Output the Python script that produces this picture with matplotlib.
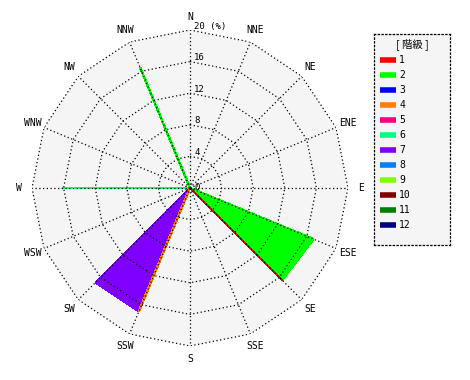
import numpy as np
import matplotlib
matplotlib.use('Agg')
import matplotlib.pyplot as plt

plt.rcParams['font.family'] = ['DejaVu Sans Mono', 'Noto Sans CJK JP']

# 16 directions, clockwise from north
directions = ['N', 'NNE', 'NE', 'ENE', 'E', 'ESE', 'SE', 'SSE',
              'S', 'SSW', 'SW', 'WSW', 'W', 'WNW', 'NW', 'NNW']
class_labels = ['1', '2', '3', '4', '5', '6', '7', '8', '9', '10', '11', '12']
class_colors = ['#ff0000', '#00ff00', '#0000ff', '#ff8000', '#ff0080', '#00ff80',
                '#8000ff', '#0080ff', '#80ff00', '#800000', '#008000', '#000080']

# frequency (%) per class, one value per direction (N ... NNW)
freq_class = [
    [0, 0, 0, 0, 0, 0, 16.5, 0, 0, 0, 0, 0, 0, 0, 0, 0],     # 1
    [0, 0, 0, 0, 0, 16.9, 0, 0, 0, 0, 0, 0, 0, 0, 0, 16.5],  # 2
    [0] * 16,                                                # 3
    [0, 0, 0, 0, 0, 0, 0, 0, 0, 16.9, 0, 0, 0, 0, 0, 0],     # 4
    [0] * 16,                                                # 5
    [0, 0, 0, 0, 0, 0, 0, 0, 0, 0, 0, 0, 16.2, 0, 0, 0],     # 6
    [0, 0, 0, 0, 0, 0, 0, 0, 0, 0, 16.9, 0, 0, 0, 0, 0],     # 7
    [0] * 16,                                                # 8
    [0] * 16,                                                # 9
    [0] * 16,                                                # 10
    [0] * 16,                                                # 11
    [0] * 16,                                                # 12
]
ring_values = [4, 8, 12, 16, 20]
ring_labels = ['4', '8', '12', '16', '20 (%)']
r_max = 20

W, H = 470, 380
fig = plt.figure(figsize=(W / 100, H / 100), dpi=100)
fig.patch.set_facecolor('white')

cx, cy, rad = 190, 188, 158
ax = fig.add_axes([(cx - rad) / W, (H - cy - rad) / H, 2 * rad / W, 2 * rad / H],
                  projection='polar')
ax.set_theta_zero_location('N')
ax.set_theta_direction(-1)
ax.set_ylim(0, r_max)
ax.grid(False)
ax.set_xticks([])
ax.set_yticks([])
ax.spines['polar'].set_visible(False)
ax.patch.set_alpha(0)

theta = np.deg2rad(np.arange(16) * 22.5)
theta_closed = np.append(theta, theta[0])

# background polygon
ax.fill(theta_closed, [r_max] * 17, color='#f5f5f5', zorder=0, lw=0)

# stacked frequency polygons, outer classes first
cum = np.cumsum(np.array(freq_class, dtype=float), axis=0)
for k in range(len(class_labels) - 1, -1, -1):
    vals = np.append(cum[k], cum[k][0])
    ax.fill(theta_closed, vals, facecolor=class_colors[k], edgecolor=class_colors[k],
            lw=1.0, zorder=1 + (12 - k) * 0.01, antialiased=False)

# grid: polygon rings and radial lines
for r in ring_values:
    ax.plot(theta_closed, [r] * 17, color='black', lw=0.9, ls=(0, (1, 2)), zorder=3)
for t in theta:
    ax.plot([t, t], [0, r_max], color='black', lw=0.9, ls=(0, (1, 2)), zorder=3)

# ring labels
for r, lab in zip(ring_values, ring_labels):
    ax.annotate(lab, xy=(0, r), xytext=(3, -0.5), textcoords='offset points',
                ha='left', va='bottom', fontsize=6.5, zorder=4)
ax.annotate('0', xy=(0, 0), xytext=(3, 0), textcoords='offset points',
            ha='left', va='center', fontsize=6.5, zorder=4)

# direction labels
for t, d in zip(theta, directions):
    ax.text(t, r_max * 1.08, d, ha='center', va='center', fontsize=7)

# legend box
lx, ly, lw_, lh = 374, 34, 76, 211
lax = fig.add_axes([lx / W, (H - ly - lh) / H, lw_ / W, lh / H])
lax.set_xlim(0, lw_)
lax.set_ylim(lh, 0)
lax.set_xticks([])
lax.set_yticks([])
lax.set_facecolor('#f5f5f5')
for s in lax.spines.values():
    s.set_linestyle((0, (1, 2)))
    s.set_linewidth(0.9)
lax.text(lw_ / 2, 10, '[ 階級 ]', ha='center', va='center', fontsize=7.5,
         family=['Noto Sans CJK JP', 'DejaVu Sans'])
for i, (lab, col) in enumerate(zip(class_labels, class_colors)):
    y = 26 + i * 15
    lax.plot([6, 22], [y, y], color=col, lw=4, solid_capstyle='butt')
    lax.text(25, y, lab, ha='left', va='center', fontsize=7)

fig.savefig('out.png', dpi=100)
